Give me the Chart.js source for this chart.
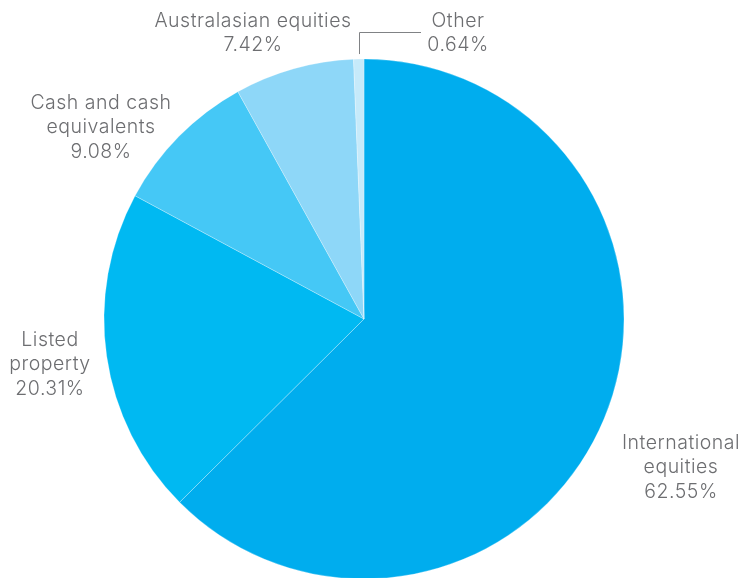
<!DOCTYPE html>
<html>
<head>
<meta charset="utf-8">
<script src="https://cdn.jsdelivr.net/npm/chart.js@4"></script>
<style>
  html, body { margin: 0; padding: 0; background: #fff; }
  #wrap { width: 743px; height: 578px; }
</style>
</head>
<body>
<div id="wrap"><canvas id="allocationChart" width="743" height="578"></canvas></div>
<script>
// asset allocation
const categories = ['International equities', 'Listed property', 'Cash and cash equivalents', 'Australasian equities', 'Other'];
const labelLines = [['International', 'equities'], ['Listed', 'property'], ['Cash and cash', 'equivalents'], ['Australasian equities'], ['Other']];
const shares = [62.55, 20.31, 9.08, 7.42, 0.64];
const sliceColors = ['#00ADEE', '#00B9F2', '#45C8F6', '#8ED7F8', '#C6EAFA'];

// where each label block sits, relative to pie centre (dx, dy of first line)
const labelOffsets = [[317, 124], [-314, 21], [-263, -216], [-111, -298], [94, -298]];

const sliceLabels = {
    id: 'sliceLabels',
    afterDatasetsDraw(chart) {
        const ctx = chart.ctx;
        const arcs = chart.getDatasetMeta(0).data;
        const cx = arcs[0].x, cy = arcs[0].y;
        ctx.save();
        ctx.fillStyle = '#6D6E71';
        ctx.font = '300 19.5px Inter';
        ctx.letterSpacing = '0.5px';
        ctx.textAlign = 'center';
        ctx.textBaseline = 'middle';
        arcs.forEach(function (arc, i) {
            const lines = labelLines[i].concat([shares[i].toFixed(2) + '%']);
            const x = cx + labelOffsets[i][0];
            const y = cy + labelOffsets[i][1];
            lines.forEach(function (line, j) {
                ctx.fillText(line, x, y + j * 24.5);
            });
        });
        // leader line for the small slice
        const other = arcs[4];
        const mid = (other.startAngle + other.endAngle) / 2;
        const lx = cx + Math.cos(mid) * other.outerRadius;
        const ly = cy + Math.sin(mid) * other.outerRadius;
        ctx.strokeStyle = '#808285';
        ctx.lineWidth = 1;
        ctx.beginPath();
        ctx.moveTo(Math.round(lx) + 0.5, ly - 5);
        ctx.lineTo(Math.round(lx) + 0.5, cy + labelOffsets[4][1] + 11.5);
        ctx.lineTo(cx + labelOffsets[4][0] - 37, cy + labelOffsets[4][1] + 11.5);
        ctx.stroke();
        ctx.restore();
    }
};

new Chart(document.getElementById('allocationChart'), {
    type: 'pie',
    data: {
        labels: categories,
        datasets: [{
            data: shares,
            backgroundColor: sliceColors,
            borderColor: 'rgba(255,255,255,0.45)',
            borderWidth: 0.6,
            radius: 260,
            clip: false
        }]
    },
    options: {
        responsive: false,
        animation: false,
        layout: { padding: { top: 60, bottom: 0, left: 0, right: 15 } },
        plugins: {
            legend: { display: false },
            tooltip: { enabled: false }
        }
    },
    plugins: [sliceLabels]
});
</script>
</body>
</html>
